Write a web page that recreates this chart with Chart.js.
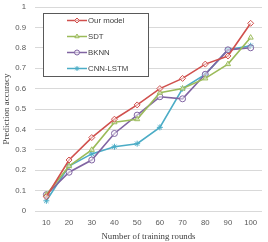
<!DOCTYPE html>
<html>
<head>
<meta charset="utf-8">
<script src="https://cdn.jsdelivr.net/npm/chart.js@4"></script>
<style>
  html, body { margin: 0; padding: 0; background: #fff; }
  #wrap { width: 268px; height: 242px; }
</style>
</head>
<body>
<div id="wrap"><canvas id="myChart" width="268" height="242"></canvas></div>
<script>
const rounds = ['10', '20', '30', '40', '50', '60', '70', '80', '90', '100'];
const ourModel = [0.07, 0.25, 0.36, 0.45, 0.52, 0.60, 0.65, 0.72, 0.76, 0.92];
const sdt = [0.08, 0.22, 0.30, 0.435, 0.45, 0.58, 0.60, 0.65, 0.72, 0.85];
const bknn = [0.08, 0.19, 0.25, 0.38, 0.47, 0.56, 0.55, 0.67, 0.79, 0.80];
const cnnLstm = [0.05, 0.22, 0.28, 0.315, 0.33, 0.41, 0.60, 0.67, 0.79, 0.81];
const seriesNames = ['Our model', 'SDT', 'BKNN', 'CNN-LSTM'];
const yTicks = [0, 0.1, 0.2, 0.3, 0.4, 0.5, 0.6, 0.7, 0.8, 0.9, 1];

const ctx = document.getElementById('myChart').getContext('2d');
const sansFont = '"Liberation Sans", Arial, sans-serif';
const serifFont = '"Liberation Serif", "Times New Roman", serif';

function makeSet(label, data, color, style) {
  return {
    label: label,
    data: data,
    borderColor: color,
    backgroundColor: 'rgba(255,255,255,0.5)',
    borderWidth: 1.6,
    pointStyle: style,
    pointRadius: 3,
    pointBorderWidth: 1,
    pointBorderColor: color,
    tension: 0
  };
}

// legend drawn inside the plot, boxed like the original
const boxLegend = {
  id: 'boxLegend',
  afterDraw(chart) {
    const c = chart.ctx;
    c.save();
    c.fillStyle = '#fff';
    c.fillRect(43, 13, 106, 64);
    c.strokeStyle = '#595959';
    c.lineWidth = 1;
    c.strokeRect(43.5, 13.5, 105, 63);
    const rows = [20.5, 36.5, 52.5, 68.5];
    chart.data.datasets.forEach((ds, i) => {
      const y = rows[i];
      c.strokeStyle = ds.borderColor;
      c.lineWidth = 1.5;
      c.beginPath();
      c.moveTo(67, y);
      c.lineTo(87, y);
      c.stroke();
      c.fillStyle = 'rgba(255,255,255,0.5)';
      c.lineWidth = 1;
      Chart.helpers.drawPoint(c, { pointStyle: ds.pointStyle, radius: 2.5, rotation: 0, borderWidth: 1 }, 77, y);
      c.fillStyle = '#404040';
      c.font = '7.8px ' + sansFont;
      c.textBaseline = 'middle';
      c.fillText(ds.label, 88, y + 0.5);
    });
    c.restore();
  }
};

const chartInstance = new Chart(ctx, {
  type: 'line',
  data: {
    labels: rounds,
    datasets: [
      makeSet(seriesNames[0], ourModel, '#D0504D', 'rectRot'),
      makeSet(seriesNames[1], sdt, '#9BBB59', 'triangle'),
      makeSet(seriesNames[2], bknn, '#8064A2', 'circle'),
      makeSet(seriesNames[3], cnnLstm, '#4BACC6', 'star')
    ]
  },
  options: {
    responsive: false,
    animation: false,
    layout: { padding: { top: 7, right: 6, left: 1, bottom: 0 } },
    plugins: {
      legend: { display: false },
      tooltip: { enabled: false }
    },
    scales: {
      x: {
        offset: true,
        grid: { display: false, drawTicks: false },
        border: { display: false },
        ticks: {
          color: '#595959',
          font: { family: sansFont, size: 7.8 },
          padding: 7,
          maxRotation: 0
        },
        title: {
          display: true,
          text: 'Number of training rounds',
          color: '#404040',
          font: { family: serifFont, size: 8.8 },
          padding: { top: 4, bottom: 0 }
        },
        afterFit(scale) { scale.height = 31; }
      },
      y: {
        min: 0,
        max: 1,
        afterBuildTicks(scale) { scale.ticks = yTicks.map(v => ({ value: v })); },
        grid: { color: '#D9D9D9', lineWidth: 1, drawTicks: false },
        border: { display: false },
        ticks: {
          color: '#595959',
          font: { family: sansFont, size: 7.8 },
          padding: 9,
          callback: v => String(Math.round(v * 10) / 10)
        },
        title: {
          display: true,
          text: 'Prediction accuracy',
          color: '#404040',
          font: { family: serifFont, size: 9 },
          padding: { top: 0, bottom: 2 }
        },
        afterFit(scale) {
          scale.width = 34;
          // tick padding would otherwise push the plot top down
          scale.paddingTop = 0;
          scale.paddingBottom = 0;
        }
      }
    }
  },
  plugins: [boxLegend]
});
</script>
</body>
</html>
